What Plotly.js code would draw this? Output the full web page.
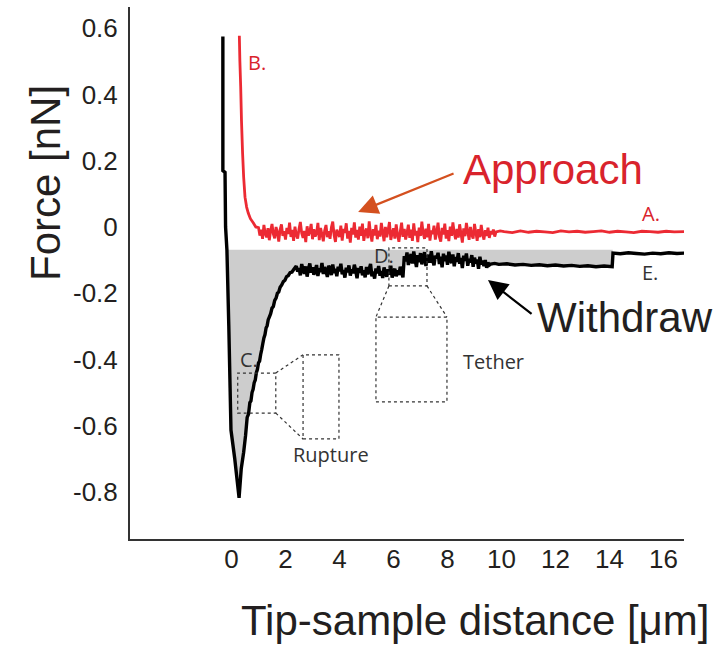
<!DOCTYPE html>
<html>
<head>
<meta charset="utf-8">
<script src="https://cdn.plot.ly/plotly-3.0.1.min.js"></script>
<style>html,body{margin:0;padding:0;background:#fff;}#chart{width:727px;height:646px;}</style>
</head>
<body>
<div id="chart"></div>
<script>
// ---------------- DATA ----------------
// Approach curve (red): contact part
const approachContactX = [0.29,0.31,0.34,0.37,0.41,0.45,0.5,0.56,0.62,0.7,0.81,0.9];
const approachContactY = [0.577,0.5,0.423,0.32,0.223,0.15,0.09,0.06,0.042,0.025,0.012,0.0];
// Approach curve: noisy part (1.0 to 9.8 um)
const approachNoiseX = [1.0,1.05,1.1,1.15,1.2,1.25,1.3,1.35,1.4,1.45,1.5,1.55,1.6,1.65,1.7,1.75,1.8,1.85,1.9,1.95,
  2.0,2.05,2.1,2.15,2.2,2.25,2.3,2.35,2.4,2.45,2.5,2.55,2.6,2.65,2.7,2.75,2.8,2.85,2.9,2.95,
  3.0,3.05,3.1,3.15,3.2,3.25,3.3,3.35,3.4,3.45,3.5,3.55,3.6,3.65,3.7,3.75,3.8,3.85,3.9,3.95,
  4.0,4.05,4.1,4.15,4.2,4.25,4.3,4.35,4.4,4.45,4.5,4.55,4.6,4.65,4.7,4.75,4.8,4.85,4.9,4.95,
  5.0,5.05,5.1,5.15,5.2,5.25,5.3,5.35,5.4,5.45,5.5,5.55,5.6,5.65,5.7,5.75,5.8,5.85,5.9,5.95,
  6.0,6.05,6.1,6.15,6.2,6.25,6.3,6.35,6.4,6.45,6.5,6.55,6.6,6.65,6.7,6.75,6.8,6.85,6.9,6.95,
  7.0,7.05,7.1,7.15,7.2,7.25,7.3,7.35,7.4,7.45,7.5,7.55,7.6,7.65,7.7,7.75,7.8,7.85,7.9,7.95,
  8.0,8.05,8.1,8.15,8.2,8.25,8.3,8.35,8.4,8.45,8.5,8.55,8.6,8.65,8.7,8.75,8.8,8.85,8.9,8.95,
  9.0,9.05,9.1,9.15,9.2,9.25,9.3,9.35,9.4,9.45,9.5,9.55,9.6,9.65,9.7,9.75,9.8];
const approachNoiseY = [-0.002,-0.026,-0.008,-0.036,0.006,-0.02,-0.031,-0.004,-0.04,-0.011,
  0.009,-0.022,-0.034,0.0,-0.017,-0.044,-0.008,0.008,-0.027,-0.013,
  -0.038,-0.003,-0.021,0.013,-0.03,-0.009,-0.042,0.001,-0.024,-0.035,
  -0.006,0.015,-0.019,-0.033,-0.012,-0.046,0.002,-0.026,-0.014,0.009,
  -0.037,-0.007,-0.029,-0.019,0.012,-0.04,-0.003,-0.022,-0.043,-0.011,
  0.006,-0.031,-0.013,-0.036,-0.001,0.016,-0.025,-0.045,-0.008,-0.02,
  -0.03,0.004,-0.041,-0.006,-0.018,0.011,-0.035,-0.012,-0.047,-0.003,
  -0.023,0.014,-0.032,-0.009,-0.038,0.001,-0.027,0.01,-0.042,-0.015,
  -0.005,-0.034,0.017,-0.02,-0.044,-0.007,-0.026,0.006,-0.037,-0.011,
  -0.029,0.012,-0.016,-0.043,0.0,-0.031,-0.01,0.015,-0.039,-0.019,
  -0.004,-0.035,0.008,-0.023,-0.045,-0.014,0.013,-0.03,-0.006,-0.038,
  -0.018,0.007,-0.033,-0.008,-0.042,0.011,-0.025,-0.012,-0.046,-0.002,
  -0.027,0.016,-0.019,-0.036,-0.005,-0.031,0.009,-0.041,-0.011,-0.021,
  0.004,-0.038,-0.015,0.013,-0.03,-0.044,-0.003,-0.023,0.01,-0.035,
  -0.01,-0.043,0.001,-0.027,0.014,-0.018,-0.037,-0.006,-0.032,0.008,
  -0.02,-0.047,-0.004,-0.028,0.012,-0.014,-0.039,0.0,-0.024,-0.035,
  0.009,-0.017,-0.042,-0.007,-0.031,0.006,-0.022,-0.038,-0.01,-0.027,
  -0.002,-0.033,-0.012,-0.022,-0.008,-0.029,-0.015];
// Approach curve: quiet tail
const approachTailX = [9.95,10.1,10.4,10.7,11.0,11.3,11.6,11.9,12.2,12.5,12.8,13.1,13.4,13.7,14.0,14.3,14.6,14.9,15.2,15.5,15.8,16.1,16.4,16.8];
const approachTailY = [-0.012,-0.014,-0.017,-0.012,-0.016,-0.013,-0.015,-0.017,-0.012,-0.015,-0.013,-0.016,-0.014,
  -0.012,-0.016,-0.013,-0.015,-0.017,-0.013,-0.014,-0.016,-0.013,-0.015,-0.014];

// Withdraw curve (black): descent and rupture region
const withdrawRuptureX = [-0.32,-0.32,-0.24,-0.22,-0.17,-0.1,-0.02,0.12,0.28,0.36,0.45,0.52,0.58,0.63,0.68,0.72,
  0.76,0.8,0.84,0.88,0.92,0.96,1.0,1.04,1.08,1.12,1.16,1.2,1.24,1.28,1.32,1.36,1.4,1.45,1.5,1.55,1.6,1.65,
  1.7,1.75,1.8,1.86,1.92,1.98,2.04,2.1,2.17,2.24,2.31];
const withdrawRuptureY = [0.575,0.17,0.165,0.0,-0.069,-0.3,-0.613,-0.7,-0.818,-0.73,-0.68,-0.63,-0.575,-0.565,-0.53,-0.525,
  -0.5,-0.49,-0.47,-0.462,-0.44,-0.43,-0.41,-0.405,-0.385,-0.37,-0.352,-0.335,-0.325,-0.305,-0.298,-0.28,-0.272,-0.262,
  -0.245,-0.24,-0.222,-0.215,-0.2,-0.196,-0.182,-0.175,-0.165,-0.161,-0.15,-0.147,-0.138,-0.136,-0.128];
// Withdraw curve: noisy plateau (2.4 to 9.6 um)
const withdrawNoiseX = [2.4,2.45,2.5,2.55,2.6,2.65,2.7,2.75,2.8,2.85,2.9,2.95,
  3.0,3.05,3.1,3.15,3.2,3.25,3.3,3.35,3.4,3.45,3.5,3.55,3.6,3.65,3.7,3.75,3.8,3.85,3.9,3.95,
  4.0,4.05,4.1,4.15,4.2,4.25,4.3,4.35,4.4,4.45,4.5,4.55,4.6,4.65,4.7,4.75,4.8,4.85,4.9,4.95,
  5.0,5.05,5.1,5.15,5.2,5.25,5.3,5.35,5.4,5.45,5.5,5.55,5.6,5.65,5.7,5.75,5.8,5.85,5.9,5.95,
  6.0,6.05,6.1,6.15,6.2,6.25,6.3,6.35,
  6.4,6.45,6.5,6.55,6.6,6.65,6.7,6.75,6.8,6.85,6.9,6.95,
  7.0,7.05,7.1,7.15,7.2,7.25,7.3,7.35,7.4,7.45,7.5,7.55,7.6,7.65,7.7,7.75,7.8,7.85,7.9,7.95,
  8.0,8.05,8.1,8.15,8.2,8.25,8.3,8.35,8.4,8.45,8.5,8.55,8.6,8.65,8.7,8.75,8.8,8.85,8.9,8.95,
  9.0,9.05,9.1,9.15,9.2,9.25,9.3,9.35,9.4,9.45,9.5,9.55,9.6];
const withdrawNoiseY = [-0.118,-0.135,-0.124,-0.146,-0.112,-0.129,-0.141,-0.119,-0.15,-0.127,
  -0.11,-0.138,-0.122,-0.144,-0.131,-0.115,-0.148,-0.125,-0.136,-0.109,
  -0.142,-0.121,-0.133,-0.151,-0.117,-0.128,-0.145,-0.113,-0.139,-0.126,
  -0.149,-0.12,-0.134,-0.111,-0.143,-0.13,-0.153,-0.123,-0.137,-0.116,
  -0.147,-0.128,-0.14,-0.114,-0.132,-0.155,-0.124,-0.138,-0.119,-0.146,
  -0.131,-0.152,-0.121,-0.143,-0.127,-0.112,-0.149,-0.135,-0.156,-0.125,
  -0.14,-0.118,-0.147,-0.133,-0.154,-0.122,-0.139,-0.15,-0.128,-0.144,
  -0.117,-0.153,-0.136,-0.126,-0.149,-0.131,-0.145,-0.12,-0.138,-0.152,
  -0.088,-0.104,-0.077,-0.115,-0.094,-0.082,-0.11,-0.074,-0.099,-0.121,
  -0.085,-0.106,-0.079,-0.113,-0.092,-0.076,-0.118,-0.097,-0.084,-0.108,
  -0.073,-0.101,-0.116,-0.087,-0.095,-0.078,-0.112,-0.09,-0.122,-0.081,
  -0.103,-0.086,-0.114,-0.075,-0.098,-0.109,-0.083,-0.119,-0.091,-0.105,
  -0.079,-0.111,-0.094,-0.124,-0.087,-0.102,-0.08,-0.117,-0.096,-0.107,
  -0.085,-0.12,-0.093,-0.11,-0.098,-0.126,-0.09,-0.113,-0.102,-0.118,
  -0.1,-0.123,-0.108,-0.115,-0.112];
// Withdraw curve: tether tail and final step
const withdrawTailX = [9.75,9.9,10.2,10.5,10.8,11.1,11.4,11.7,12.0,12.3,12.6,12.9,13.2,13.5,13.8,14.1,
  14.13,14.4,14.7,15.0,15.3,15.6,15.9,16.2,16.5,16.8];
const withdrawTailY = [-0.11,-0.113,-0.111,-0.115,-0.113,-0.116,-0.114,-0.117,-0.115,-0.118,-0.116,-0.119,-0.117,-0.12,-0.118,-0.12,
  -0.079,-0.081,-0.078,-0.08,-0.082,-0.079,-0.081,-0.078,-0.08,-0.079];

const fillBaseline = -0.069;   // grey work area top edge
const fillStartX = -0.17;
const fillEndX = 14.12;

const xTickVals = [0,2,4,6,8,10,12,14,16];
const xTickText = ['0','2','4','6','8','10','12','14','16'];
const yTickVals = [0.6,0.4,0.2,0,-0.2,-0.4,-0.6,-0.8];
const yTickText = ['0.6','0.4','0.2','0','-0.2','-0.4','-0.6','-0.8'];

// ---------------- BUILD ----------------
const approachX = approachContactX.concat(approachNoiseX, approachTailX);
const approachY = approachContactY.concat(approachNoiseY, approachTailY);
const withdrawX = withdrawRuptureX.concat(withdrawNoiseX, withdrawTailX);
const withdrawY = withdrawRuptureY.concat(withdrawNoiseY, withdrawTailY);

const fillX = [fillStartX];
const fillY = [fillBaseline];
for (let i = 0; i < withdrawX.length; i++) {
  if (withdrawX[i] >= fillStartX && withdrawX[i] <= fillEndX) {
    fillX.push(withdrawX[i]); fillY.push(withdrawY[i]);
  }
}
fillX.push(fillEndX); fillY.push(fillBaseline);

const RED = '#ec2a33';
const REDTXT = '#d9232c';
const DARK = '#231f20';
const LBL = '#333333';

const traces = [
  {x: fillX, y: fillY, type: 'scatter', mode: 'lines', fill: 'toself',
   fillcolor: '#cdcdcd', line: {width: 0, simplify: false}, hoverinfo: 'skip', showlegend: false},
  {x: approachX, y: approachY, type: 'scatter', mode: 'lines', name: 'Approach',
   line: {color: RED, width: 2.8, simplify: false}, showlegend: false},
  {x: withdrawX, y: withdrawY, type: 'scatter', mode: 'lines', name: 'Withdraw',
   line: {color: '#000000', width: 3.4, simplify: false}, showlegend: false}
];

const dotLine = {color: LBL, width: 1.2, dash: 'dot'};
const shapes = [
  {type: 'rect', xref: 'x', yref: 'y', x0: 0.23, x1: 1.64, y0: -0.562, y1: -0.441, line: dotLine},
  {type: 'rect', xref: 'x', yref: 'y', x0: 2.65, x1: 3.98, y0: -0.640, y1: -0.386, line: dotLine},
  {type: 'line', xref: 'x', yref: 'y', x0: 1.64, y0: -0.441, x1: 2.65, y1: -0.386, line: dotLine},
  {type: 'line', xref: 'x', yref: 'y', x0: 1.64, y0: -0.562, x1: 2.65, y1: -0.640, line: dotLine},
  {type: 'rect', xref: 'x', yref: 'y', x0: 5.83, x1: 7.24, y0: -0.178, y1: -0.063, line: dotLine},
  {type: 'rect', xref: 'x', yref: 'y', x0: 5.35, x1: 7.98, y0: -0.528, y1: -0.272, line: dotLine},
  {type: 'line', xref: 'x', yref: 'y', x0: 5.83, y0: -0.178, x1: 5.35, y1: -0.272, line: dotLine},
  {type: 'line', xref: 'x', yref: 'y', x0: 7.24, y0: -0.178, x1: 7.98, y1: -0.272, line: dotLine}
];

const lblFont = (c, s) => ({family: '"Open Sans", "Noto Sans", sans-serif', size: s, color: c});
const bigFont = (c) => ({family: '"Liberation Sans", Arial, sans-serif', size: 42, color: c});
const L = 130, R = 43, T = 7, B = 107, W = 727, H = 646;
const pw = W - L - R, ph = H - T - B;
const annotations = [
  {x: 0.54, y: 0.495, xref: 'x', yref: 'y', text: 'B.', showarrow: false, xanchor: 'left', yanchor: 'middle', font: lblFont(REDTXT, 20)},
  {x: 15.13, y: 0.042, xref: 'x', yref: 'y', text: 'A.', showarrow: false, xanchor: 'left', yanchor: 'middle', font: lblFont(REDTXT, 20)},
  {x: 15.13, y: -0.136, xref: 'x', yref: 'y', text: 'E.', showarrow: false, xanchor: 'left', yanchor: 'middle', font: lblFont(LBL, 20)},
  {x: 0.25, y: -0.40, xref: 'x', yref: 'y', text: 'C.', showarrow: false, xanchor: 'left', yanchor: 'middle', font: lblFont(LBL, 20)},
  {x: 5.2, y: -0.085, xref: 'x', yref: 'y', text: 'D.', showarrow: false, xanchor: 'left', yanchor: 'middle', font: lblFont(LBL, 20)},
  {x: 3.69, y: -0.687, xref: 'x', yref: 'y', text: 'Rupture', showarrow: false, xanchor: 'center', yanchor: 'middle', font: lblFont(LBL, 20)},
  {x: 9.69, y: -0.405, xref: 'x', yref: 'y', text: 'Tether', showarrow: false, xanchor: 'center', yanchor: 'middle', font: lblFont(LBL, 20)},
  {x: 8.5, y: 0.172, xref: 'x', yref: 'y', text: 'Approach', showarrow: false, xanchor: 'left', yanchor: 'middle', font: bigFont(REDTXT)},
  {x: 11.25, y: -0.272, xref: 'x', yref: 'y', text: 'Withdraw', showarrow: false, xanchor: 'left', yanchor: 'middle', font: bigFont(DARK)},
  // arrows
  {x: 4.69, y: 0.045, ax: 8.28, ay: 0.163, xref: 'x', yref: 'y', axref: 'x', ayref: 'y', text: '',
   showarrow: true, arrowhead: 2, arrowsize: 1.8, arrowwidth: 2.2, arrowcolor: '#d4501f', standoff: 0},
  {x: 9.5, y: -0.16, ax: 11.17, ay: -0.266, xref: 'x', yref: 'y', axref: 'x', ayref: 'y', text: '',
   showarrow: true, arrowhead: 2, arrowsize: 1.8, arrowwidth: 2.2, arrowcolor: '#000000', standoff: 0},
  // axis titles (pixel positions converted to paper fractions)
  {x: (475 - L) / pw, y: (H - B - 620) / ph, xref: 'paper', yref: 'paper', text: 'Tip-sample distance [μm]', showarrow: false,
   xanchor: 'center', yanchor: 'middle', font: bigFont(DARK)},
  {x: (45 - L) / pw, y: (H - B - 183) / ph, xref: 'paper', yref: 'paper', text: 'Force [nN]', showarrow: false, textangle: -90,
   xanchor: 'center', yanchor: 'middle', font: bigFont(DARK)}
];

const tickFont = {family: '"Liberation Sans", Arial, sans-serif', size: 26, color: DARK};
const layout = {
  width: W, height: H,
  margin: {l: L, r: R, t: T, b: B, pad: 0},
  paper_bgcolor: '#ffffff', plot_bgcolor: '#ffffff',
  showlegend: false,
  xaxis: {range: [-3.76, 16.76], tickvals: xTickVals, ticktext: xTickText, showgrid: false, zeroline: false,
          showline: true, linecolor: '#333333', linewidth: 2, ticks: '', tickfont: tickFont, ticklabelstandoff: -4},
  yaxis: {range: [-0.942, 0.664], tickvals: yTickVals, ticktext: yTickText, showgrid: false, zeroline: false,
          showline: true, linecolor: '#333333', linewidth: 2, ticks: '', tickfont: tickFont, ticklabelstandoff: 5},
  shapes: shapes,
  annotations: annotations
};

Plotly.newPlot('chart', traces, layout, {displayModeBar: false, staticPlot: true});
</script>
</body>
</html>
